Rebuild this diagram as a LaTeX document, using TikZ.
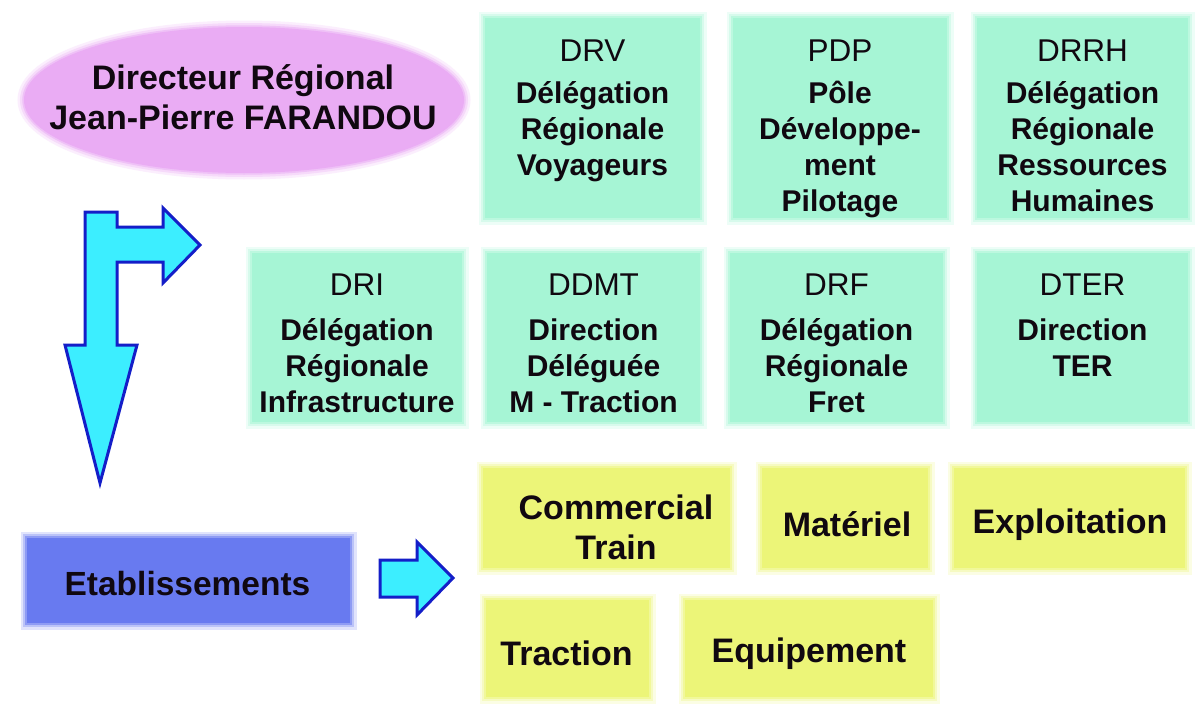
\documentclass[tikz,border=0pt]{standalone}
\usepackage{fontspec}
\setmainfont{Liberation Sans}
\usetikzlibrary{shapes.geometric}
\definecolor{mint}{RGB}{166,245,213}
\definecolor{yel}{RGB}{236,245,120}
\definecolor{blueb}{RGB}{104,122,240}
\definecolor{viol}{RGB}{234,172,244}
\definecolor{cyanf}{RGB}{60,238,255}
\definecolor{darkb}{RGB}{20,30,200}
\definecolor{inkc}{RGB}{16,8,16}
\newcommand\TopStrut{\rule{0pt}{1em}}
\begin{document}
\begin{tikzpicture}[x=1pt,y=-1pt,
  halo/.style={preaction={draw=#1!20!white, line width=13pt}, preaction={draw=#1!45!white, line width=8pt}, preaction={draw=#1!75!white, line width=3.5pt}},
  gbox/.style={rectangle, fill=mint, halo=mint, inner sep=0pt},
  ybox/.style={rectangle, fill=yel, halo=yel, inner sep=0pt},
  bbox/.style={rectangle, fill=blueb, halo=blueb, inner sep=0pt},
  ttl/.style={font=\fontsize{31.5}{36}\selectfont, text=inkc, anchor=base, inner sep=0pt},
  bodytxt/.style={font=\bfseries\fontsize{30}{36}\selectfont, text=inkc, align=center, anchor=north, inner sep=0pt},
  ytxt/.style={font=\bfseries\fontsize{34}{40}\selectfont, text=inkc, anchor=base, inner sep=0pt},
  arrowst/.style={fill=cyanf, draw=darkb, line width=3pt, line join=miter}
]
\fill[white] (0,0) rectangle (1195,704);
\path[use as bounding box] (0,0) rectangle (1195,704);

% director ellipse
\node[ellipse, fill=viol, halo=viol, minimum width=440, minimum height=146, inner sep=0pt] (dir) at (244,100) {};
\node[font=\bfseries\fontsize{34}{40.5}\selectfont, text=inkc, align=center, anchor=north, inner sep=0pt] (dirT) at (243,55.2) {\TopStrut Directeur Régional\\Jean-Pierre FARANDOU};

% top row
\node[gbox, minimum width=215, minimum height=200] (drv) at (592.5,118) {};
\node[gbox, minimum width=214, minimum height=200] (pdp) at (840,118) {};
\node[gbox, minimum width=211, minimum height=200] (drrh) at (1082.5,118) {};
% second row
\node[gbox, minimum width=210, minimum height=169] (dri) at (357,337.5) {};
\node[gbox, minimum width=213, minimum height=169] (ddmt) at (593.5,337.5) {};
\node[gbox, minimum width=213, minimum height=169] (drf) at (836.5,337.5) {};
\node[gbox, minimum width=211, minimum height=169] (dter) at (1082.5,337.5) {};

% titles
\node[ttl] (drvH) at (drv.center |- 0,61.3) {DRV};
\node[ttl] (pdpH) at (pdp.center |- 0,61.3) {PDP};
\node[ttl] (drrhH) at (drrh.center |- 0,61.3) {DRRH};
\node[ttl] (driH) at (dri.center |- 0,295.3) {DRI};
\node[ttl] (ddmtH) at (ddmt.center |- 0,295.3) {DDMT};
\node[ttl] (drfH) at (drf.center |- 0,295.3) {DRF};
\node[ttl] (dterH) at (dter.center |- 0,295.3) {DTER};

% bodies
\node[bodytxt] (drvB) at (drv.center |- 0,73.7) {\TopStrut Délégation\\Régionale\\Voyageurs};
\node[bodytxt] (pdpB) at (pdp.center |- 0,73.7) {\TopStrut Pôle\\Développe-\\ment\\Pilotage};
\node[bodytxt] (drrhB) at (drrh.center |- 0,73.7) {\TopStrut Délégation\\Régionale\\Ressources\\Humaines};
\node[bodytxt] (driB) at (dri.center |- 0,310.7) {\TopStrut Délégation\\Régionale\\Infrastructure};
\node[bodytxt] (ddmtB) at (ddmt.center |- 0,310.7) {\TopStrut Direction\\Déléguée\\M - Traction};
\node[bodytxt] (drfB) at (drf.center |- 0,310.7) {\TopStrut Délégation\\Régionale\\Fret};
\node[bodytxt] (dterB) at (dter.center |- 0,310.7) {\TopStrut Direction\\TER};

% yellow boxes
\node[ybox, minimum width=247, minimum height=100] (com) at (606.5,518) {};
\node[ybox, minimum width=166, minimum height=100] (mat) at (845,518) {};
\node[ybox, minimum width=231, minimum height=100] (exp) at (1069.5,518) {};
\node[ybox, minimum width=163, minimum height=97] (tra) at (567.5,648.5) {};
\node[ybox, minimum width=248, minimum height=97] (equ) at (809,648.5) {};

\node[font=\bfseries\fontsize{34}{40}\selectfont, text=inkc, align=center, anchor=north, inner sep=0pt] (comT) at (616,485.2) {\TopStrut Commercial\\Train};
\node[ytxt] (matT) at (847,536) {Matériel};
\node[ytxt] (expT) at (1070,533) {Exploitation};
\node[ytxt] (traT) at (566.5,665) {Traction};
\node[ytxt] (equT) at (809,662) {Equipement};

% etablissements
\node[bbox, minimum width=323, minimum height=85] (eta) at (188.5,580.5) {};
\node[font=\bfseries\fontsize{33.5}{40}\selectfont, text=inkc, anchor=base, inner sep=0pt] (etaT) at (187.5,595) {Etablissements};

% arrows
\draw[arrowst] (85,212) -- (117,212) -- (117,227) -- (163,227) -- (163,208) -- (200,245) -- (163,283) -- (163,262) -- (117,262) -- (117,345) -- (137,345) -- (100,483) -- (65,345) -- (85,345) -- cycle;
\draw[arrowst] (380,560) -- (417,560) -- (417,542) -- (453,578) -- (417,615) -- (417,597) -- (380,597) -- cycle;
\end{tikzpicture}
\end{document}
